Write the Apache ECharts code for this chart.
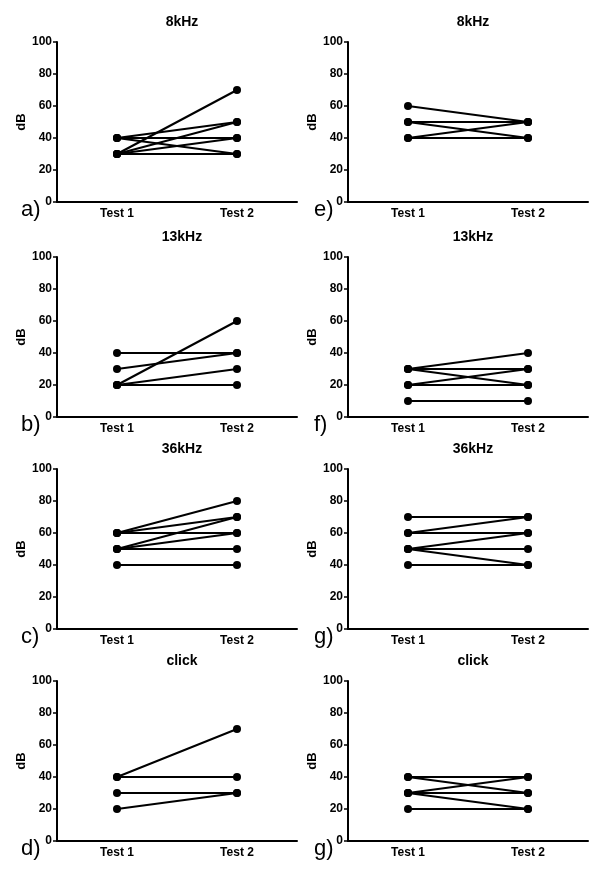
<!DOCTYPE html>
<html>
<head>
<meta charset="utf-8">
<script src="https://cdn.jsdelivr.net/npm/echarts@6/dist/echarts.min.js"></script>
<style>
  html, body { margin: 0; padding: 0; background: #fff; }
  #main { width: 600px; height: 874px; }
</style>
</head>
<body>
<div id="main"></div>
<script>
// x categories and y ticks
var tests = ['Test 1', 'Test 2'];
var yTicks = [0, 20, 40, 60, 80, 100];

// panel titles and letters, left column then right column
var titles = ['8kHz', '13kHz', '36kHz', 'click', '8kHz', '13kHz', '36kHz', 'click'];
var letters = ['a)', 'b)', 'c)', 'd)', 'e)', 'f)', 'g)', 'g)'];

// each panel: one [test1, test2] pair per subject
var panelA = [[30, 70], [40, 50], [30, 50], [40, 40], [40, 30], [30, 40], [30, 30]];
var panelB = [[40, 40], [30, 40], [20, 60], [20, 30], [20, 20]];
var panelC = [[60, 80], [60, 70], [60, 60], [50, 70], [50, 60], [50, 50], [40, 40]];
var panelD = [[40, 70], [40, 40], [30, 30], [20, 30]];
var panelE = [[60, 50], [50, 50], [50, 40], [40, 50], [40, 40]];
var panelF = [[30, 40], [30, 30], [30, 20], [20, 30], [20, 20], [10, 10]];
var panelG = [[70, 70], [60, 70], [60, 60], [50, 60], [50, 50], [50, 40], [40, 40]];
var panelH = [[40, 40], [40, 30], [30, 40], [30, 30], [30, 20], [20, 20]];
var panels = [panelA, panelB, panelC, panelD, panelE, panelF, panelG, panelH];

var font = 'Liberation Sans, Arial, sans-serif';
var rowTops = [42, 257, 469, 681];
var colLefts = [57, 348];

var chart = echarts.init(document.getElementById('main'));
var grids = [], xAxes = [], yAxes = [], series = [], titleList = [], graphics = [];

panels.forEach(function (pairs, i) {
    var col = Math.floor(i / 4), row = i % 4;
    var left = colLefts[col], top = rowTops[row];
    grids.push({ left: left, top: top, width: 240, height: 160 });
    titleList.push({
        text: titles[i], left: left + 120, top: top - 32, textAlign: 'center',
        textStyle: { fontFamily: font, fontSize: 14, fontWeight: 'bold', color: '#000' }
    });
    xAxes.push({
        type: 'category', gridIndex: i, data: tests, boundaryGap: true,
        axisLine: { lineStyle: { color: '#000', width: 2 } },
        axisTick: { alignWithLabel: true, length: 4, lineStyle: { color: '#000', width: 1.5 } },
        axisLabel: { color: '#000', fontFamily: font, fontWeight: 'bold', fontSize: 12, margin: 6 }
    });
    yAxes.push({
        type: 'value', gridIndex: i, min: yTicks[0], max: yTicks[yTicks.length - 1], interval: 20,
        name: 'dB', nameLocation: 'middle', nameGap: 28,
        nameTextStyle: { color: '#000', fontFamily: font, fontWeight: 'bold', fontSize: 13 },
        axisLine: { show: true, lineStyle: { color: '#000', width: 2 } },
        axisTick: { show: true, length: 4, lineStyle: { color: '#000', width: 1.5 } },
        axisLabel: { color: '#000', fontFamily: font, fontWeight: 'bold', fontSize: 12, margin: 5 },
        splitLine: { show: false }
    });
    pairs.forEach(function (p) {
        series.push({
            type: 'line', xAxisIndex: i, yAxisIndex: i, data: p,
            symbol: 'circle', symbolSize: 8, silent: true, animation: false,
            lineStyle: { color: '#000', width: 2 },
            itemStyle: { color: '#000' }
        });
    });
    graphics.push({
        type: 'text', left: col === 0 ? 21 : 314, top: top + 157,
        style: { text: letters[i], font: '22px ' + font, fill: '#000' }
    });
});

chart.setOption({
    animation: false,
    title: titleList,
    grid: grids,
    xAxis: xAxes,
    yAxis: yAxes,
    series: series,
    graphic: graphics
});
</script>
</body>
</html>
